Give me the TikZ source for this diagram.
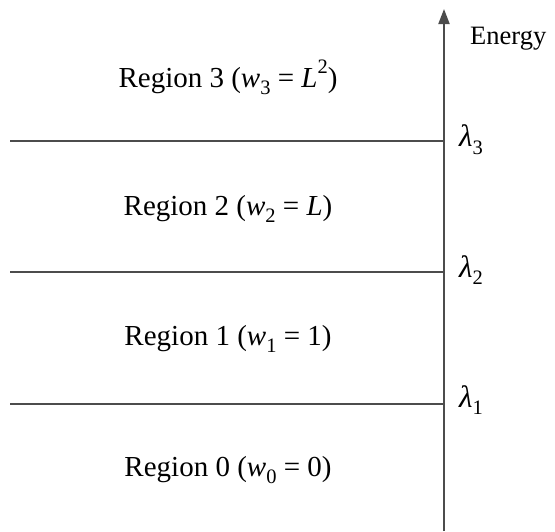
\documentclass[tikz,border=0pt]{standalone}
\usepackage{fontspec}
\setmainfont{Liberation Serif}
\usetikzlibrary{arrows.meta}
\newcommand{\mysb}[1]{\raisebox{-0.25em}{\fontsize{20.5}{20}\selectfont #1}}
\newcommand{\mysp}[1]{\raisebox{0.48em}{\fontsize{20.5}{20}\selectfont #1}}
\begin{document}
\begin{tikzpicture}[x=1pt,y=-1pt,
  axisline/.style={draw=black!70,line width=2pt},
  regtext/.style={font=\fontsize{29}{32}\selectfont,inner sep=0pt},
  lamtext/.style={font=\fontsize{31}{34}\selectfont,inner sep=0pt,anchor=west}]
\useasboundingbox (0,0) rectangle (555,531);
\coordinate (bot) at (444,531);
\coordinate (top) at (444,9);
\coordinate (a3) at (444,141);
\coordinate (a2) at (444,272);
\coordinate (a1) at (444,404);
\coordinate (s3) at (10,141);
\coordinate (s2) at (10,272);
\coordinate (s1) at (10,404);
\draw[axisline,-{Triangle[length=15pt,width=11pt]}] (bot) -- (top);
\draw[axisline] (s3) -- (a3);
\draw[axisline] (s2) -- (a2);
\draw[axisline] (s1) -- (a1);
\node[regtext] (r3) at (228,77) {Region 3 (\textit{w}\mysb{3} = \textit{L}\mysp{2})};
\node[regtext] (r2) at (228,209) {Region 2 (\textit{w}\mysb{2} = \textit{L})};
\node[regtext] (r1) at (228,339) {Region 1 (\textit{w}\mysb{1} = 1)};
\node[regtext] (r0) at (228,470) {Region 0 (\textit{w}\mysb{0} = 0)};
\node[regtext,anchor=west,font=\fontsize{26.5}{30}\selectfont] (en) at (470,39) {Energy};
\node[lamtext] (l3) at (459,140) {\textit{λ}\mysb{3}};
\node[lamtext] (l2) at (459,270) {\textit{λ}\mysb{2}};
\node[lamtext] (l1) at (459,400) {\textit{λ}\mysb{1}};
\end{tikzpicture}
\end{document}
